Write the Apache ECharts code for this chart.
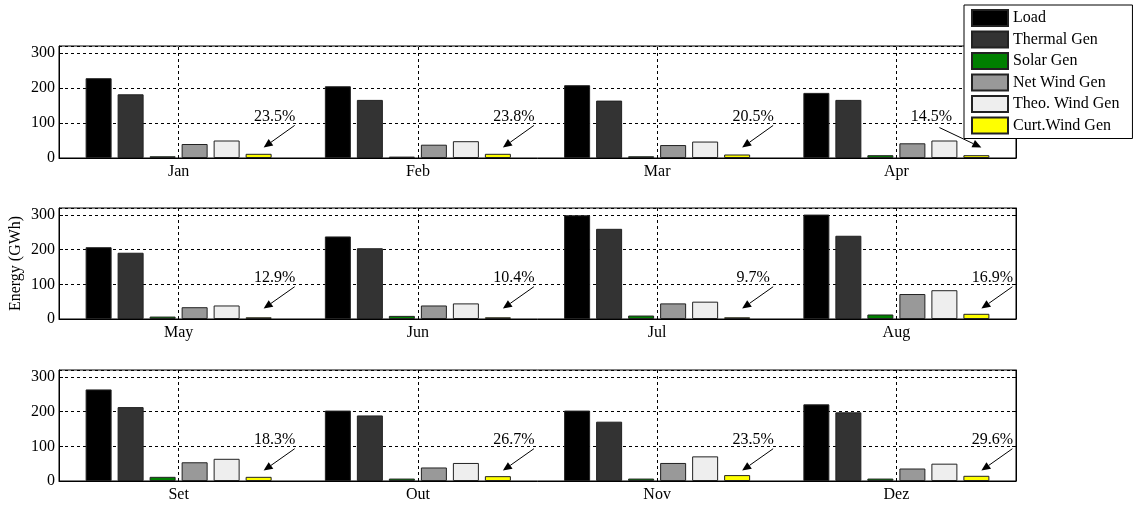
<!DOCTYPE html>
<html>
<head>
<meta charset="utf-8">
<script src="https://cdn.jsdelivr.net/npm/echarts@6/dist/echarts.min.js"></script>
<style>
  html, body { margin: 0; padding: 0; background: #fff; }
  #chart { width: 1133px; height: 509px; }
</style>
</head>
<body>
<div id="chart"></div>
<script>
const months = ['Jan', 'Feb', 'Mar', 'Apr', 'May', 'Jun', 'Jul', 'Aug', 'Set', 'Out', 'Nov', 'Dez'];
const seriesNames = ['Load', 'Thermal Gen', 'Solar Gen', 'Net Wind Gen', 'Theo. Wind Gen', 'Curt.Wind Gen'];
const load = [228, 205, 208, 186, 207, 238, 299, 301, 264, 203, 203, 221];
const thermalGen = [182, 166, 164, 166, 191, 204, 260, 240, 213, 189, 171, 198];
const solarGen = [5, 4, 5, 8, 7, 9, 10, 13, 12, 7, 7, 7];
const netWindGen = [40, 38, 37, 42, 34, 39, 45, 72, 54, 39, 52, 36];
const theoWindGen = [50, 48, 47, 50, 39, 45, 50, 83, 64, 52, 71, 50];
const curtWindGen = [12, 12, 10, 8, 5, 5, 5, 15, 12, 14, 17, 15];
const curtPercent = ['23.5%', '23.8%', '20.5%', '14.5%', '12.9%', '10.4%', '9.7%', '16.9%', '18.3%', '26.7%', '23.5%', '29.6%'];
const yTicks = [0, 100, 200, 300];

const values = [load, thermalGen, solarGen, netWindGen, theoWindGen, curtWindGen];
const colors = ['#000000', '#333333', '#008000', '#999999', '#eeeeee', '#ffff00'];
// which side of the yellow bar the % label sits on (Apr is pushed left by the legend)
const labelSide = [1, 1, 1, -1, 1, 1, 1, 1, 1, 1, 1, 1];

const FONT = 'Liberation Serif';
const BAR_W = 26;
const BAR_GAP = 6;
const rows = [
  { top: 46, height: 112 },
  { top: 208, height: 111 },
  { top: 370, height: 111 },
];

const chart = echarts.init(document.getElementById('chart'), null, { renderer: 'canvas' });

const dash = { color: '#000', type: [3, 3], width: 1 };

function annotation(row) {
  return function (params, api) {
    const m = row * 4 + params.dataIndex;
    const s = labelSide[m];
    const cx = api.coord([params.dataIndex, 0])[0];
    const bx = cx + 2.5 * (BAR_W + BAR_GAP);
    const textY = api.coord([params.dataIndex, 118])[1];
    const tail = [bx + (s > 0 ? 36 : -37), api.coord([params.dataIndex, s > 0 ? 93 : 87])[1]];
    const head = [bx + 5, api.coord([params.dataIndex, 30])[1]];
    const dx = head[0] - tail[0];
    const dy = head[1] - tail[1];
    const len = Math.sqrt(dx * dx + dy * dy);
    const ux = dx / len, uy = dy / len;
    const bxp = head[0] - ux * 9, byp = head[1] - uy * 9;
    return {
      type: 'group',
      children: [
        {
          type: 'line',
          shape: { x1: tail[0], y1: tail[1], x2: bxp, y2: byp },
          style: { stroke: '#000', lineWidth: 1 },
        },
        {
          type: 'polygon',
          shape: {
            points: [
              head,
              [bxp - uy * 4, byp + ux * 4],
              [bxp + uy * 4, byp - ux * 4],
            ],
          },
          style: { fill: '#000' },
        },
        {
          type: 'text',
          style: {
            text: curtPercent[m],
            x: bx + (s > 0 ? 16 : -45),
            y: textY,
            align: 'center',
            verticalAlign: 'middle',
            font: '16px "' + FONT + '"',
            fill: '#000',
          },
        },
      ],
    };
  };
}

const grids = [], xAxes = [], yAxes = [], series = [];
rows.forEach((r, i) => {
  const cats = months.slice(i * 4, i * 4 + 4);
  grids.push({
    left: 59, right: 117, top: r.top, height: r.height,
    outerBoundsMode: 'none',
    containLabel: false,
    show: true, borderColor: '#000', borderWidth: 1,
  });
  xAxes.push({
    type: 'category', gridIndex: i, data: cats,
    axisLine: { lineStyle: { color: '#000', width: 1 } },
    axisTick: { show: false },
    axisLabel: { color: '#000', fontSize: 16, fontFamily: FONT, margin: 6 },
    splitLine: { show: false },
  });
  yAxes.push({
    type: 'value', gridIndex: i, min: 0, max: 320, interval: 100, position: 'left',
    name: i === 1 ? 'Energy (GWh)' : '',
    nameLocation: 'middle', nameGap: 35, nameMoveOverlap: false,
    nameTextStyle: { color: '#000', fontSize: 16, fontFamily: FONT },
    axisLine: { show: true, lineStyle: { color: '#000', width: 1 } },
    axisTick: { show: true, inside: true, length: 4, lineStyle: { color: '#000' } },
    axisLabel: {
      color: '#000', fontSize: 16, fontFamily: FONT, margin: 4, showMaxLabel: false,
      formatter: v => (yTicks.includes(v) ? String(v) : ''),
    },
    splitLine: { show: true, lineStyle: dash },
  });
  yAxes.push({
    type: 'value', gridIndex: i, min: 0, max: 320, interval: 100, position: 'right',
    axisLine: { show: true, lineStyle: { color: '#000', width: 1 } },
    axisTick: { show: true, inside: true, length: 4, lineStyle: { color: '#000' } },
    axisLabel: { show: false },
    splitLine: { show: false },
  });

  values.forEach((vals, k) => {
    series.push({
      name: seriesNames[k],
      type: 'bar',
      xAxisIndex: i,
      yAxisIndex: i * 2,
      barWidth: BAR_W,
      barGap: (BAR_GAP / BAR_W * 100).toFixed(1) + '%',
      itemStyle: { color: colors[k], borderColor: '#222', borderWidth: 1 },
      data: vals.slice(i * 4, i * 4 + 4),
    });
  });

  // % labels + arrows, and the vertical month grid lines (at category centres)
  series.push({
    type: 'custom',
    xAxisIndex: i,
    yAxisIndex: i * 2,
    silent: true,
    z: 10,
    renderItem: annotation(i),
    data: curtWindGen.slice(i * 4, i * 4 + 4).map((v, j) => [j, v]),
    markLine: {
      silent: true, symbol: 'none', label: { show: false },
      lineStyle: dash,
      data: cats.map(c => ({ xAxis: c })),
    },
  });
});

chart.setOption({
  animation: false,
  textStyle: { fontFamily: FONT },
  legend: {
    data: seriesNames,
    orient: 'vertical',
    left: 964, top: 5,
    padding: [4, 13, 4, 7],
    itemWidth: 36, itemHeight: 16, itemGap: 3.5,
    icon: 'rect',
    selectedMode: false,
    backgroundColor: '#fff',
    borderColor: '#000', borderWidth: 1, borderRadius: 0,
    textStyle: { color: '#000', fontSize: 16, fontFamily: FONT, lineHeight: 16 },
  },
  grid: grids,
  xAxis: xAxes,
  yAxis: yAxes,
  series: series,
});
</script>
</body>
</html>
